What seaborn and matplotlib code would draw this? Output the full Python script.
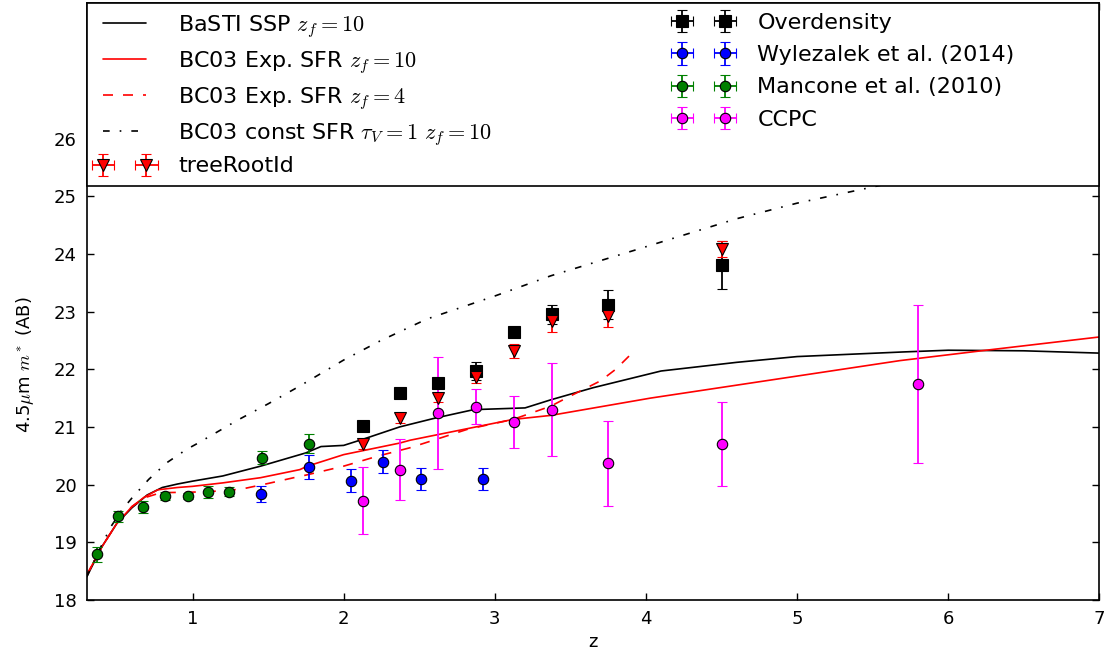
import matplotlib
matplotlib.use("Agg")
import matplotlib.pyplot as plt
import seaborn as sns

# ---- model tracks: characteristic 4.5um magnitude vs redshift ----
basti_z = [0.3, 0.4, 0.5, 0.6, 0.7, 0.8, 0.9, 1.0, 1.2, 1.45, 1.75, 1.85, 2.0, 2.12,
           2.37, 2.6, 2.86, 3.2, 3.37, 3.65, 4.1, 4.6, 5.0, 5.7, 6.0, 6.5, 7.0]
basti_m = [18.40, 18.92, 19.33, 19.60, 19.82, 19.95, 20.01, 20.06, 20.15, 20.32, 20.55,
           20.66, 20.68, 20.78, 21.00, 21.15, 21.30, 21.33, 21.47, 21.68, 21.97, 22.12,
           22.22, 22.30, 22.33, 22.32, 22.28]

exp10_z = [0.3, 0.4, 0.5, 0.6, 0.68, 0.77, 0.9, 1.0, 1.2, 1.45, 1.71, 1.76, 2.0, 2.37,
           2.44, 3.12, 3.37, 4.03, 5.68, 6.25, 7.0]
exp10_m = [18.43, 18.92, 19.33, 19.62, 19.78, 19.91, 19.95, 19.97, 20.03, 20.12, 20.26,
           20.32, 20.52, 20.72, 20.77, 21.13, 21.20, 21.50, 22.15, 22.33, 22.56]

exp4_z = [0.3, 0.4, 0.5, 0.6, 0.68, 0.79, 1.0, 1.12, 1.32, 1.5, 1.67, 1.71, 2.0, 2.22,
          2.44, 2.82, 3.12, 3.37, 3.48, 3.70, 3.80, 3.90]
exp4_m = [18.43, 18.92, 19.33, 19.62, 19.77, 19.86, 19.87, 19.88, 19.92, 20.02, 20.12,
          20.14, 20.32, 20.49, 20.64, 20.96, 21.13, 21.36, 21.51, 21.80, 22.00, 22.26]

const_z = [0.3, 0.38, 0.46, 0.53, 0.6, 0.71, 0.83, 0.96, 1.03, 1.3, 1.5, 1.71, 2.0, 2.24,
           2.55, 3.0, 3.37, 3.92, 4.6, 5.0, 5.5, 6.0, 7.0]
const_m = [18.40, 18.85, 19.27, 19.55, 19.77, 20.09, 20.38, 20.61, 20.71, 21.12, 21.40,
           21.71, 22.16, 22.49, 22.87, 23.27, 23.62, 24.06, 24.61, 24.88, 25.16, 25.45, 25.95]

# ---- measurements ----
over_z = [2.125, 2.375, 2.625, 2.875, 3.125, 3.375, 3.75, 4.5]
over_m = [21.02, 21.58, 21.77, 21.97, 22.65, 22.95, 23.12, 23.81]
over_e = [0.05, 0.06, 0.08, 0.15, 0.07, 0.17, 0.25, 0.41]

tree_z = [2.125, 2.375, 2.625, 2.875, 3.125, 3.375, 3.75, 4.5]
tree_m = [20.70, 21.15, 21.51, 21.86, 22.31, 22.84, 22.93, 24.09]
tree_e = [0.09, 0.08, 0.08, 0.10, 0.12, 0.20, 0.19, 0.14]

wyl_z = [1.45, 1.77, 2.05, 2.26, 2.51, 2.92]
wyl_m = [19.84, 20.31, 20.07, 20.40, 20.09, 20.09]
wyl_e = [0.14, 0.21, 0.20, 0.20, 0.19, 0.19]

man_z = [0.37, 0.505, 0.67, 0.82, 0.97, 1.10, 1.24, 1.46, 1.77]
man_m = [18.79, 19.45, 19.61, 19.80, 19.80, 19.87, 19.88, 20.47, 20.71]
man_e = [0.13, 0.09, 0.10, 0.07, 0.05, 0.10, 0.08, 0.12, 0.17]

ccpc_z = [2.125, 2.375, 2.625, 2.875, 3.125, 3.375, 3.75, 4.5, 5.8]
ccpc_m = [19.72, 20.26, 21.24, 21.35, 21.08, 21.30, 20.37, 20.70, 21.74]
ccpc_e = [0.58, 0.53, 0.97, 0.30, 0.45, 0.80, 0.74, 0.73, 1.37]

x_ticks = [1, 2, 3, 4, 5, 6, 7]
y_ticks = [18, 19, 20, 21, 22, 23, 24, 25, 26]

sns.set_theme(style="ticks")
plt.rcParams.update({
    "font.family": ["DejaVu Sans"],
    "mathtext.fontset": "cm",
    "text.color": "black",
    "axes.labelcolor": "black",
    "axes.edgecolor": "black",
    "axes.linewidth": 1.2,
    "axes.facecolor": "white",
    "xtick.color": "black",
    "ytick.color": "black",
    "xtick.labelcolor": "black",
    "ytick.labelcolor": "black",
    "legend.labelcolor": "black",
})

fig = plt.figure(figsize=(11.1, 6.53), dpi=100)
ax = fig.add_axes([0.0781, 0.0812, 0.9124, 0.9142])

lw = 1.2
sns.lineplot(x=basti_z, y=basti_m, ax=ax, color="black", linewidth=lw,
             label=r"BaSTI SSP $z_f=10$")
sns.lineplot(x=exp10_z, y=exp10_m, ax=ax, color="red", linewidth=lw,
             label=r"BC03 Exp. SFR $z_f=10$")
sns.lineplot(x=exp4_z, y=exp4_m, ax=ax, color="red", linewidth=lw,
             linestyle=(0, (6, 6)), label=r"BC03 Exp. SFR $z_f=4$")
sns.lineplot(x=const_z, y=const_m, ax=ax, color="black", linewidth=lw,
             linestyle=(0, (4, 6, 1, 6)), label=r"BC03 const SFR $\tau_V=1$ $z_f=10$")
line_handles = list(ax.lines[:4])

eb_kw = dict(linestyle="none", capsize=3.5, elinewidth=1.3, capthick=1.2,
             markeredgecolor="black", markeredgewidth=0.8)

man = ax.errorbar(man_z, man_m, yerr=man_e, xerr=[0] * len(man_z), fmt="o",
                  color="green", ecolor="green", markersize=7.5, **eb_kw)
wyl = ax.errorbar(wyl_z, wyl_m, yerr=wyl_e, xerr=[0] * len(wyl_z), fmt="o",
                  color="blue", ecolor="blue", markersize=7.5, **eb_kw)
ccpc = ax.errorbar(ccpc_z, ccpc_m, yerr=ccpc_e, xerr=[0] * len(ccpc_z), fmt="o",
                   color="magenta", ecolor="magenta", markersize=7.5, **eb_kw)
over = ax.errorbar(over_z, over_m, yerr=over_e, xerr=[0] * len(over_z), fmt="s",
                   color="black", ecolor="black", markersize=8, **eb_kw)
tree = ax.errorbar(tree_z, tree_m, yerr=tree_e, xerr=[0] * len(tree_z), fmt="v",
                   color="red", ecolor="red", markersize=8, **eb_kw)

ax.set_xlim(0.3, 7)
ax.set_ylim(18, 28.35)
ax.set_xticks(x_ticks)
ax.set_xticklabels([str(t) for t in x_ticks])
ax.set_yticks(y_ticks)
ax.set_yticklabels([str(t) for t in y_ticks])
ax.tick_params(direction="in", length=5, width=1, top=True, right=True,
               labelsize=13, pad=7)
ax.set_xlabel("z", fontsize=13, labelpad=4)
ax.set_ylabel(r"4.5$\mu$m $m^*$ (AB)", fontsize=13)
ax.yaxis.set_label_coords(-0.050, 0.394)

leg_kw = dict(fontsize=16, numpoints=2, handlelength=2.54, handletextpad=1.14,
              borderpad=0.45, borderaxespad=0)

leg1 = ax.legend(handles=line_handles + [tree],
                 labels=[r"BaSTI SSP $z_f=10$", r"BC03 Exp. SFR $z_f=10$",
                         r"BC03 Exp. SFR $z_f=4$", r"BC03 const SFR $\tau_V=1$ $z_f=10$",
                         "treeRootId"],
                 loc="upper left", bbox_to_anchor=(0, 0, 1, 1), mode="expand",
                 labelspacing=0.40, frameon=True, fancybox=False, framealpha=1,
                 edgecolor="black", **leg_kw)
leg1.get_frame().set_linewidth(1.2)
ax.add_artist(leg1)

leg2 = ax.legend(handles=[over, wyl, man, ccpc],
                 labels=["Overdensity", "Wylezalek et al. (2014)",
                         "Mancone et al. (2010)", "CCPC"],
                 loc="upper left", bbox_to_anchor=(0.5716, 1.0),
                 labelspacing=0.55, frameon=False, **leg_kw)
leg2.set_zorder(6)

fig.savefig("out.png", dpi=100)
